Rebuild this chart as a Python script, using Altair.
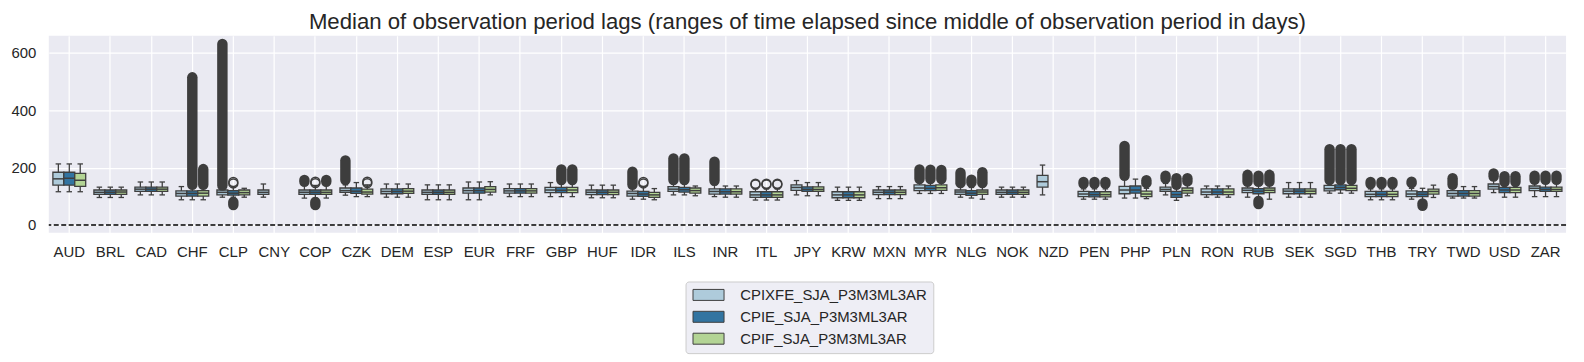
import altair as alt
import pandas as pd

currencies = ["AUD", "BRL", "CAD", "CHF", "CLP", "CNY", "COP", "CZK", "DEM", "ESP",
              "EUR", "FRF", "GBP", "HUF", "IDR", "ILS", "INR", "ITL", "JPY", "KRW",
              "MXN", "MYR", "NLG", "NOK", "NZD", "PEN", "PHP", "PLN", "RON", "RUB",
              "SEK", "SGD", "THB", "TRY", "TWD", "USD", "ZAR"]
series = ["CPIXFE_SJA_P3M3ML3AR", "CPIE_SJA_P3M3ML3AR", "CPIF_SJA_P3M3ML3AR"]
palette = ["#aecbdb", "#3274a1", "#b3d495"]
y_ticks = [0, 200, 400, 600]
title_text = "Median of observation period lags (ranges of time elapsed since middle of observation period in days)"

# (lower whisker, q1, median, q3, upper whisker) per currency, None = no data
cpixfe_stats = [
    (116, 139, 161, 184, 213), (96, 107, 114, 122, 132), (105, 117, 125, 132, 150),
    (88, 101, 110, 119, 134), (97, 105, 114, 122, 132), (97, 107, 114, 122, 143),
    (94, 107, 114, 122, 138), (104, 114, 120, 129, 140), (97, 109, 117, 126, 143),
    (88, 107, 114, 122, 140), (88, 111, 120, 129, 150), (99, 111, 119, 127, 143),
    (99, 113, 122, 131, 148), (95, 106, 114, 122, 139), (90, 101, 110, 118, 134),
    (105, 117, 125, 134, 150), (99, 108, 117, 126, 140), (87, 96, 105, 116, 126),
    (105, 121, 131, 140, 155), (86, 95, 105, 116, 132), (92, 106, 114, 122, 134),
    (110, 120, 129, 140, 152), (97, 107, 115, 122, 138), (97, 107, 114, 122, 132),
    (105, 132, 151, 173, 209), (90, 99, 108, 117, 126), (94, 109, 122, 135, 160),
    (105, 117, 124, 132, 145), (97, 106, 115, 126, 136), (97, 113, 121, 129, 145),
    (97, 109, 118, 126, 148), (111, 119, 127, 138, 152), (88, 99, 107, 117, 126),
    (90, 99, 108, 119, 128), (94, 101, 110, 120, 134), (113, 125, 134, 143, 158),
    (99, 120, 128, 136, 150),
]
cpie_stats = [
    (116, 139, 163, 184, 213), (96, 107, 114, 122, 132), (105, 117, 125, 132, 150),
    (88, 101, 110, 119, 134), (97, 104, 111, 120, 132), None,
    (94, 107, 114, 122, 138), (99, 110, 118, 129, 148), (97, 109, 117, 126, 143),
    (88, 107, 114, 122, 140), (88, 111, 120, 129, 150), (99, 111, 119, 127, 143),
    (99, 113, 121, 131, 148), (95, 106, 114, 122, 139), (90, 100, 108, 117, 134),
    (105, 115, 123, 131, 148), (97, 108, 116, 126, 136), (87, 96, 105, 116, 126),
    (102, 117, 124, 133, 148), (86, 95, 105, 116, 132), (92, 106, 114, 122, 134),
    (110, 120, 128, 138, 150), (94, 103, 111, 120, 131), (97, 107, 114, 122, 132),
    None, (90, 98, 106, 116, 126), (94, 111, 122, 136, 160),
    (86, 96, 106, 117, 128), (97, 106, 115, 126, 136), (97, 109, 118, 127, 145),
    (97, 109, 118, 126, 148), (111, 123, 131, 140, 152), (88, 99, 107, 117, 126),
    (86, 99, 107, 116, 128), (94, 101, 110, 120, 134), (97, 113, 122, 131, 148),
    (99, 117, 124, 132, 148),
]
cpif_stats = [
    (116, 135, 156, 180, 213), (96, 107, 115, 122, 132), (105, 117, 125, 132, 150),
    (88, 101, 111, 120, 134), (97, 105, 113, 122, 128), None,
    (94, 107, 114, 122, 138), (99, 108, 115, 125, 140), (97, 110, 118, 127, 143),
    (88, 107, 114, 122, 140), (105, 115, 124, 134, 151), (99, 111, 119, 127, 143),
    (99, 113, 122, 131, 148), (95, 106, 114, 122, 139), (88, 96, 105, 114, 127),
    (102, 111, 120, 129, 136), (97, 108, 116, 126, 136), (87, 96, 105, 116, 126),
    (102, 117, 124, 133, 148), (86, 95, 105, 116, 132), (92, 106, 114, 122, 134),
    (110, 121, 130, 140, 152), (90, 107, 115, 122, 140), (97, 107, 114, 122, 132),
    None, (90, 98, 106, 116, 126), (92, 99, 108, 118, 128),
    (102, 111, 120, 129, 140), (97, 106, 115, 126, 136), (90, 113, 121, 129, 145),
    (97, 109, 118, 126, 148), (111, 120, 128, 138, 152), (88, 99, 107, 117, 126),
    (96, 108, 117, 125, 139), (94, 101, 110, 120, 134), (97, 113, 122, 131, 148),
    (99, 117, 124, 132, 148),
]

# dense runs of outliers: (currency, series index, lowest, highest)
flier_runs = [
    ("CHF", 1, 140, 515), ("CHF", 2, 140, 195), ("CLP", 0, 138, 631), ("CLP", 1, 70, 80),
    ("COP", 0, 151, 157), ("COP", 1, 70, 80), ("COP", 2, 151, 157), ("CZK", 0, 157, 225),
    ("GBP", 1, 157, 194), ("GBP", 2, 157, 194), ("IDR", 0, 140, 186), ("ILS", 0, 157, 232),
    ("ILS", 1, 157, 232), ("INR", 0, 154, 221), ("MYR", 0, 160, 194), ("MYR", 1, 160, 193),
    ("MYR", 2, 160, 192), ("NLG", 0, 146, 182), ("NLG", 1, 148, 158), ("NLG", 2, 146, 184),
    ("PEN", 0, 144, 150), ("PEN", 1, 144, 150), ("PEN", 2, 144, 150), ("PHP", 0, 172, 276),
    ("PHP", 2, 146, 156), ("PLN", 0, 162, 172), ("PLN", 1, 140, 163), ("PLN", 2, 152, 163),
    ("RUB", 0, 151, 175), ("RUB", 1, 151, 172), ("RUB", 1, 73, 84), ("RUB", 2, 151, 175),
    ("SGD", 0, 157, 264), ("SGD", 1, 157, 264), ("SGD", 2, 157, 264), ("THB", 0, 143, 150),
    ("THB", 1, 143, 150), ("THB", 2, 143, 150), ("TRY", 0, 146, 151), ("TRY", 1, 67, 75),
    ("TWD", 0, 140, 163), ("USD", 0, 169, 180), ("USD", 1, 150, 170), ("USD", 2, 150, 170),
    ("ZAR", 0, 158, 172), ("ZAR", 1, 158, 172), ("ZAR", 2, 158, 172),
]
# small groups of outliers drawn as open rings: (currency, series index, lowest, highest)
flier_rings = [
    ("CLP", 1, 145, 150), ("COP", 1, 146, 151), ("CZK", 2, 146, 151), ("IDR", 1, 145, 150),
    ("ITL", 0, 141, 144), ("ITL", 1, 141, 144), ("ITL", 2, 141, 144),
]

EDGE = "#3f3f3f"
FLIER = "#3d3d3d"
FONT = "Liberation Sans"
TEXT = "#262626"

rows = []
for s, stats in zip(series, [cpixfe_stats, cpie_stats, cpif_stats]):
    for cur, st in zip(currencies, stats):
        if st is None:
            continue
        lo, q1, med, q3, hi = st
        rows.append(dict(currency=cur, series=s, lo=lo, q1=q1, med=med, q3=q3, hi=hi))
box_df = pd.DataFrame(rows)

run_df = pd.DataFrame([dict(currency=c, series=series[i], lo=a, hi=b) for c, i, a, b in flier_runs])
ring_rows = []
for c, i, a, b in flier_rings:
    ring_rows.append(dict(currency=c, series=series[i], v=a))
    ring_rows.append(dict(currency=c, series=series[i], v=b))
ring_df = pd.DataFrame(ring_rows)
zero_df = pd.DataFrame({"z": [0]})

x_enc = alt.X("currency:N", sort=currencies,
              scale=alt.Scale(domain=currencies, paddingInner=0.2, paddingOuter=0.1),
              axis=alt.Axis(title=None, labelAngle=0, grid=True, bandPosition=0.5, labelPadding=12))
xo_enc = alt.XOffset("series:N", sort=series,
                     scale=alt.Scale(domain=series, paddingInner=0, paddingOuter=0))
y_scale = alt.Scale(domain=[-27, 660], nice=False, zero=False)
y_axis = alt.Axis(title=None, values=y_ticks, labelPadding=13)


def Y(field):
    return alt.Y(field, scale=y_scale, axis=y_axis, title=None)


whiskers = alt.Chart(box_df).mark_rule(color=EDGE, strokeWidth=1.3).encode(
    x=x_enc, xOffset=xo_enc, y=Y("lo:Q"), y2="hi:Q")

boxes = alt.Chart(box_df).mark_bar(stroke=EDGE, strokeWidth=1.3).encode(
    x=x_enc, xOffset=xo_enc, y=Y("q1:Q"), y2="q3:Q",
    fill=alt.Fill("series:N", sort=series,
                  scale=alt.Scale(domain=series, range=palette),
                  legend=alt.Legend(title=None, orient="none", legendX=640, legendY=247,
                                    direction="vertical",
                                    symbolType="M-1,-0.92H4.2V0.92H-1Z", symbolSize=144,
                                    symbolStrokeColor=EDGE, symbolStrokeWidth=1,
                                    symbolOpacity=1,
                                    labelFont=FONT, labelFontSize=15, labelColor=TEXT,
                                    labelOffset=34, labelLimit=400,
                                    padding=6, rowPadding=5,
                                    fillColor="#eeeef5", strokeColor="#cccccc",
                                    cornerRadius=3)))

medians = alt.Chart(box_df).mark_tick(color=EDGE, size=11, thickness=1.5, opacity=1).encode(
    x=x_enc, xOffset=xo_enc, y=Y("med:Q"))
caps_lo = alt.Chart(box_df).mark_tick(color=EDGE, size=5.5, thickness=1.3, opacity=1).encode(
    x=x_enc, xOffset=xo_enc, y=Y("lo:Q"))
caps_hi = alt.Chart(box_df).mark_tick(color=EDGE, size=5.5, thickness=1.3, opacity=1).encode(
    x=x_enc, xOffset=xo_enc, y=Y("hi:Q"))

runs = alt.Chart(run_df).mark_rule(color=FLIER, strokeWidth=10.5, strokeCap="round").encode(
    x=x_enc, xOffset=xo_enc, y=Y("lo:Q"), y2="hi:Q")
rings = alt.Chart(ring_df).mark_point(shape="circle", filled=False, size=81, strokeWidth=1.5,
                                      color=FLIER, opacity=1).encode(
    x=x_enc, xOffset=xo_enc, y=Y("v:Q"))

zero = alt.Chart(zero_df).mark_rule(color="black", strokeDash=[5, 2.5], strokeWidth=1.3).encode(
    y=Y("z:Q"))

chart = alt.layer(whiskers, boxes, medians, caps_lo, caps_hi, runs, rings, zero).properties(
    width=1525, height=198,
    title=alt.TitleParams(title_text, font=FONT, fontSize=22.3, fontWeight="normal",
                          color=TEXT, anchor="middle", offset=2),
    autosize=alt.AutoSizeParams(type="none"),
    padding={"left": 41, "top": 27, "right": 10, "bottom": 125},
).configure_view(fill="#EAEAF2", stroke=None).configure_axis(
    labelFont=FONT, labelFontSize=15, labelColor=TEXT, domain=False, ticks=False,
    tickSize=0, gridColor="white", gridWidth=1.2, gridOpacity=1)

chart.save("out.html", embed_options={"renderer": "svg", "actions": False})
